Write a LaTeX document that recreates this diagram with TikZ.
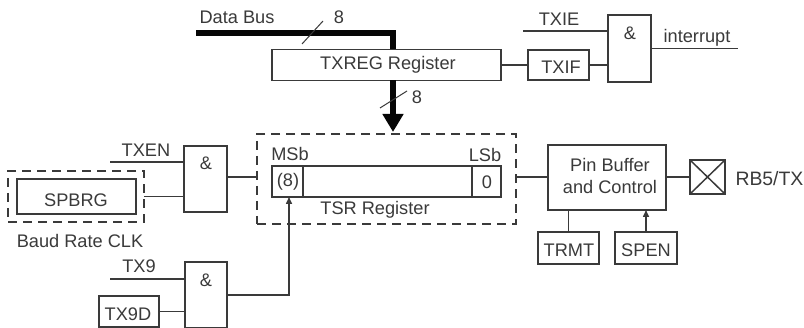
\documentclass[tikz,border=0pt]{standalone}
\usepackage{fontspec}
\setmainfont{Liberation Sans}
\usetikzlibrary{arrows.meta}
\definecolor{ink}{HTML}{3A3A3A}
\begin{document}
\begin{tikzpicture}[x=1pt,y=-1pt,
  every node/.style={inner sep=0pt,outer sep=0pt,text=ink,font=\fontsize{18.2}{21}\selectfont},
  lab/.style={anchor=center},
  wbox/.style={draw=ink,line width=1.5pt,fill=white},
  dbox/.style={draw=ink,line width=1.5pt,dash pattern=on 9pt off 6pt},
  wire/.style={draw=ink,line width=1.5pt},
  thin slash/.style={draw=ink,line width=1pt},
  bus/.style={draw=black!90!ink,line width=6.5pt},
  sig/.style={wire,-{Triangle[width=6pt,length=7pt]}}
]
\useasboundingbox (0,0) rectangle (804,328);
\fill[white] (0,0) rectangle (804,328);

% ---- top
\coordinate (busstart) at (196,33);
\coordinate (buscorner) at (393,33);
\node[wbox,minimum width=229pt,minimum height=31pt] (txreg) at (386.5,65) {};
\node[lab] at (388,65) {TXREG Register};
\draw[bus] (busstart) -- (buscorner) -- (buscorner |- txreg.north);
\node[lab] (databus) at (237,17) {Data Bus};
\coordinate (s1a) at (302,44); \coordinate (s1b) at (323,21);
\draw[thin slash] (s1a) -- (s1b);
\node[lab] (eight1) at (339,17) {8};

\node[dbox,minimum width=259pt,minimum height=90pt] (tsrdash) at (386.5,179) {};
\draw[draw=black!90!ink,line width=6.5pt,-{Triangle[width=20pt,length=18pt]}] (buscorner |- txreg.south) -- (393,132);
\coordinate (s2a) at (380,108); \coordinate (s2b) at (407,91);
\draw[thin slash] (s2a) -- (s2b);
\node[lab] (eight2) at (417,97) {8};

\node[wbox,minimum width=61pt,minimum height=30pt] (txif) at (558.5,65) {};
\node[lab] at (561,67) {TXIF};
\node[wbox,minimum width=43pt,minimum height=67pt] (and3) at (629.5,48.5) {};
\node[lab] at (630,33) {\&};
\node[lab] (txie) at (559,19) {TXIE};
\coordinate (txiestart) at (523,31);
\draw[wire] (txiestart) -- (and3.west |- txiestart);
\draw[wire] (txreg.east |- txif.west) -- (txif.west);
\draw[wire] (txif.east) -- (and3.west |- txif.east);
\node[lab] (intr) at (697,38) {interrupt};
\coordinate (intend) at (738,48.5);
\draw[wire] (and3.east |- intend) -- (intend);

% ---- left
\node[dbox,minimum width=136pt,minimum height=51pt] (spdash) at (76,196.5) {};
\node[wbox,minimum width=119pt,minimum height=35pt] (spbrg) at (76.5,196.5) {};
\node[lab] at (76,200) {SPBRG};
\node[lab] (baud) at (80,241) {Baud Rate CLK};
\node[wbox,minimum width=43pt,minimum height=66pt] (and1) at (205.5,179) {};
\node[lab] at (206,163) {\&};
\node[lab] (txen) at (146,150) {TXEN};
\coordinate (txenstart) at (110,162);
\draw[wire] (txenstart) -- (and1.west |- txenstart);
\draw[wire] (spdash.east) -- (and1.west |- spdash.east);
\coordinate (y177) at (0,177);
\draw[wire] (and1.east |- y177) -- (tsrdash.west |- y177);

\node[wbox,minimum width=42pt,minimum height=66pt] (and2) at (206,295) {};
\node[lab] at (206,280) {\&};
\node[lab] (txnine) at (139,266) {TX9};
\coordinate (txninestart) at (110,279);
\draw[wire] (txninestart) -- (and2.west |- txninestart);
\node[wbox,minimum width=60pt,minimum height=31pt] (txnined) at (129,311.5) {};
\node[lab] at (128,314) {TX9D};
\draw[wire] (txnined.east) -- (and2.west |- txnined.east);

% ---- TSR
\node[wbox,minimum width=229pt,minimum height=31pt] (tsr) at (386.5,181.5) {};
\node[wbox,minimum width=31pt,minimum height=31pt] (msb) at (287.5,181.5) {};
\node[wbox,minimum width=29pt,minimum height=31pt] (lsb) at (486.5,181.5) {};
\node[lab] at (288,182) {(8)};
\node[lab] at (487,182) {0};
\node[lab] (msbl) at (290,154) {MSb};
\node[lab] (lsbl) at (485,155) {LSb};
\node[lab] (tsrl) at (375,210) {TSR Register};
\coordinate (upx) at (289,0);
\draw[sig] (and2.east |- 0,295) -- (upx |- 0,295) -- (upx |- tsr.south);

% ---- right
\node[wbox,minimum width=118pt,minimum height=65pt] (pin) at (607,177.5) {};
\node[lab] at (610,165) {Pin Buffer};
\node[lab] at (610,187) {and Control};
\draw[wire] (tsrdash.east |- y177) -- (pin.west |- y177);
\node[wbox,minimum width=35pt,minimum height=34pt] (xbox) at (707.5,177) {};
\draw[wire] (xbox.north west) -- (xbox.south east);
\draw[wire] (xbox.north east) -- (xbox.south west);
\draw[wire] (pin.east |- xbox.west) -- (xbox.west);
\node[anchor=west,font=\fontsize{19.4}{21}\selectfont] (rb) at (735.5,179) {RB5/TX};
\node[wbox,minimum width=61pt,minimum height=32pt] (trmt) at (568.5,248) {};
\node[lab] at (569,250) {TRMT};
\node[wbox,minimum width=62pt,minimum height=32pt] (spen) at (646,248) {};
\node[lab] at (646,250) {SPEN};
\draw[wire] (trmt.north) -- (trmt.north |- pin.south);
\draw[sig] (spen.north) -- (spen.north |- pin.south);
\end{tikzpicture}
\end{document}
